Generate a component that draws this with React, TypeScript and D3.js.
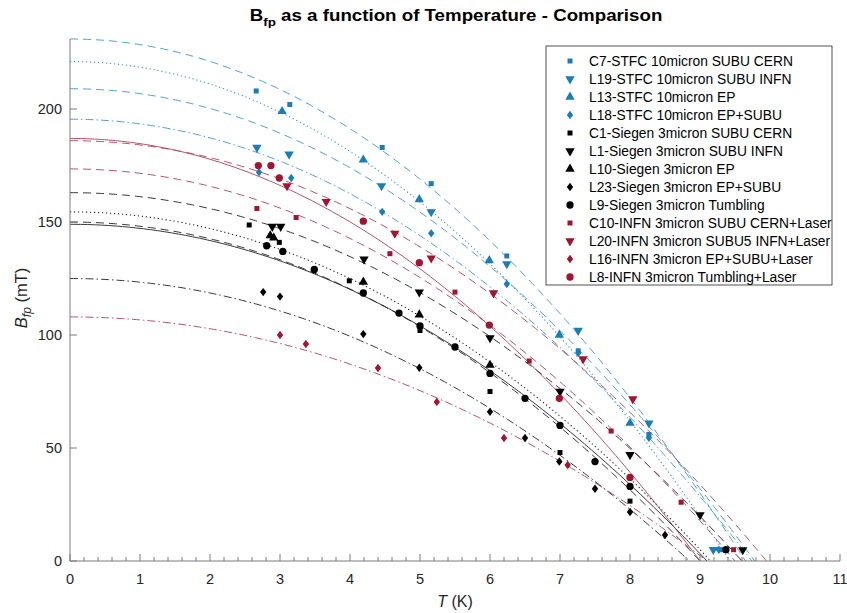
import React from "react";
import * as d3 from "d3";

// ---- Data ----
const seriesNames = [
  "C7-STFC 10micron SUBU CERN",
  "L19-STFC 10micron SUBU INFN",
  "L13-STFC 10micron EP",
  "L18-STFC 10micron EP+SUBU",
  "C1-Siegen 3micron SUBU CERN",
  "L1-Siegen 3micron SUBU INFN",
  "L10-Siegen 3micron EP",
  "L23-Siegen 3micron EP+SUBU",
  "L9-Siegen 3micron Tumbling",
  "C10-INFN 3micron SUBU CERN+Laser",
  "L20-INFN 3micron SUBU5 INFN+Laser",
  "L16-INFN 3micron EP+SUBU+Laser",
  "L8-INFN 3micron Tumbling+Laser",
];
const seriesGroup = ["STFC", "STFC", "STFC", "STFC", "Siegen", "Siegen", "Siegen", "Siegen", "Siegen", "INFN", "INFN", "INFN", "INFN"];
const seriesMarker = ["square", "down", "up", "diamond", "square", "down", "up", "diamond", "circle", "square", "down", "diamond", "circle"];
const seriesLine = ["dash", "dash", "dot", "dashdot", "dash", "dash", "dot", "dashdot", "solid", "dash", "dash", "dashdot", "solid"];

// fit parameters: B(0) and Tc
const fitB0 = [231, 209, 221, 195.5, 150, 163, 154.5, 125, 149, 173.5, 186, 108, 187];
const fitTc = [9.65, 9.78, 9.43, 9.74, 9.0, 9.6, 9.15, 8.85, 9.1, 9.5, 9.95, 9.1, 9.0];

const T_C7 = [2.66, 3.14, 4.46, 5.16, 6.24, 7.26, 8.27, 9.31];
const B_C7 = [208, 202, 183, 167, 135, 93, 56, 5];
const T_L19 = [2.67, 3.13, 4.45, 5.16, 6.24, 7.26, 8.27, 9.19];
const B_L19 = [183, 180, 166, 154.5, 131.5, 102, 61, 5];
const T_L13 = [3.03, 4.19, 4.99, 5.99, 6.99, 8.0];
const B_L13 = [199, 177.5, 160, 133, 100, 61];
const T_L18 = [2.7, 3.16, 4.46, 5.16, 6.24, 7.26, 8.27, 9.27];
const B_L18 = [172, 169.5, 154.5, 145, 122.6, 92, 54.5, 5];
const T_C1 = [2.56, 2.99, 3.99, 5.0, 6.0, 7.0, 8.0];
const B_C1 = [148.7, 141, 124, 102, 75, 48, 26.5];
const T_L1 = [2.89, 3.01, 4.2, 4.99, 6.0, 7.0, 8.0, 9.0, 9.61];
const B_L1 = [148, 148, 133.6, 119, 98.7, 75, 47, 20.4, 4.9];
const T_L10 = [2.86, 2.91, 4.19, 4.99, 6.0];
const B_L10 = [144, 143, 123.5, 109, 86.7];
const T_L23 = [2.76, 3.0, 4.19, 4.99, 6.0, 6.5, 6.99, 7.5, 8.0, 8.5];
const B_L23 = [119, 117, 100.4, 85.5, 66, 54.4, 44, 32, 21.7, 11.5];
const T_L9 = [2.81, 3.04, 3.49, 4.19, 4.7, 5.0, 5.5, 6.0, 6.5, 7.0, 7.5, 8.0, 9.37];
const B_L9 = [139.5, 137, 129, 118.6, 109.7, 104, 94.7, 83, 72, 60, 44, 33, 5];
const T_C10 = [2.67, 3.23, 4.57, 5.5, 6.56, 7.73, 8.73, 9.48];
const B_C10 = [156, 152, 136, 119, 88.5, 57.5, 26, 5];
const T_L20 = [3.1, 3.66, 4.64, 5.16, 6.05, 7.33, 8.04];
const B_L20 = [166, 159, 145, 134, 118.6, 89.4, 71.7];
const T_L16 = [3.0, 3.37, 4.4, 5.24, 6.2, 7.11];
const B_L16 = [100, 96, 85.4, 70.4, 54.4, 42.5];
const T_L8 = [2.69, 2.87, 2.99, 4.19, 4.99, 5.99, 6.99, 8.0];
const B_L8 = [175, 175, 169.5, 150.4, 132, 104.4, 72, 37];

const seriesT = [T_C7, T_L19, T_L13, T_L18, T_C1, T_L1, T_L10, T_L23, T_L9, T_C10, T_L20, T_L16, T_L8];
const seriesB = [B_C7, B_L19, B_L13, B_L18, B_C1, B_L1, B_L10, B_L23, B_L9, B_C10, B_L20, B_L16, B_L8];

const xTicks = [0, 1, 2, 3, 4, 5, 6, 7, 8, 9, 10, 11];
const yTicks = [0, 50, 100, 150, 200];

// ---- Styles ----
const W = 847;
const H = 613;
const markerColor: Record<string, string> = { STFC: "#1a7db8", Siegen: "#000000", INFN: "#a2142f" };
const lineColor: Record<string, string> = { STFC: "#3a98cc", Siegen: "#222222", INFN: "#b0405a" };
const dashMap: Record<string, string> = { dash: "8,5", dot: "1.2,2.8", dashdot: "8,3,1.5,3", solid: "none" };
const FONT = "'Liberation Sans', Arial, Helvetica, sans-serif";

const x = d3.scaleLinear().domain([0, 11]).range([70, 840]);
const y = d3.scaleLinear().domain([0, 231]).range([561, 39]);

const diamondPath = "M0,-4.2L3.2,0L0,4.2L-3.2,0Z";

function markerPath(kind: string): { d: string; rot: number } {
  if (kind === "square") return { d: d3.symbol(d3.symbolSquare, 25)()!, rot: 0 };
  if (kind === "up") return { d: d3.symbol(d3.symbolTriangle, 38)()!, rot: 0 };
  if (kind === "down") return { d: d3.symbol(d3.symbolTriangle, 38)()!, rot: 180 };
  if (kind === "diamond") return { d: diamondPath, rot: 0 };
  return { d: d3.symbol(d3.symbolCircle, 42)()!, rot: 0 };
}

export default function App() {
  const line = d3
    .line<[number, number]>()
    .x((d) => x(d[0]))
    .y((d) => y(d[1]));

  const curves = fitB0.map((b0, i) => {
    const tc = fitTc[i];
    const ts = d3.range(0, tc, 0.05).concat([tc]);
    const pts: [number, number][] = ts.map((t) => [t, b0 * (1 - (t / tc) * (t / tc))]);
    return pts;
  });

  const minorX = d3.range(0, 11.001, 0.2).filter((v) => Math.abs(v - Math.round(v)) > 1e-6);

  const legX = 546;
  const legY = 46;
  const legW = 286;
  const legH = 239;

  return (
    <svg width={W} height={H} style={{ position: "absolute", left: 0, top: 0, background: "#fff" }} fontFamily={FONT}>
      <rect x={0} y={0} width={W} height={H} fill="#fff" />
      {/* curves */}
      <g>
        {curves.map((pts, i) => (
          <path
            key={"c" + i}
            d={line(pts)!}
            fill="none"
            stroke={lineColor[seriesGroup[i]]}
            strokeWidth={seriesLine[i] === "dot" ? 1.1 : 0.9}
            strokeDasharray={dashMap[seriesLine[i]]}
          />
        ))}
      </g>
      {/* markers */}
      <g>
        {seriesT.map((ts, i) => {
          const m = markerPath(seriesMarker[i]);
          return ts.map((t, j) => (
            <path
              key={"m" + i + "_" + j}
              d={m.d}
              transform={`translate(${x(t)},${y(seriesB[i][j])}) rotate(${m.rot})`}
              fill={markerColor[seriesGroup[i]]}
            />
          ));
        })}
      </g>
      {/* axes */}
      <g stroke="#7a7a7a" strokeWidth={1} fill="none">
        <line x1={x(0)} y1={y(0)} x2={x(11)} y2={y(0)} />
        <line x1={x(0)} y1={y(0)} x2={x(0)} y2={y(231)} />
        {xTicks.map((t) => (
          <line key={"xt" + t} x1={x(t)} x2={x(t)} y1={y(0)} y2={y(0) - 7} />
        ))}
        {minorX.map((t, i) => (
          <line key={"xm" + i} x1={x(t)} x2={x(t)} y1={y(0)} y2={y(0) - 4} />
        ))}
        {yTicks.map((v) => (
          <line key={"yt" + v} x1={x(0)} x2={x(0) + 7} y1={y(v)} y2={y(v)} />
        ))}
      </g>
      <g fill="#262626" fontSize={14.5}>
        {xTicks.map((t) => (
          <text key={"xl" + t} x={x(t)} y={584} textAnchor="middle">
            {t}
          </text>
        ))}
        {yTicks.map((v) => (
          <text key={"yl" + v} x={62} y={y(v) + 5} textAnchor="end">
            {v}
          </text>
        ))}
      </g>
      {/* axis labels */}
      <text x={455} y={607} textAnchor="middle" fontSize={16} fill="#262626">
        <tspan fontStyle="italic">T</tspan> (K)
      </text>
      <text transform="translate(27,298) rotate(-90)" textAnchor="middle" fontSize={16.5} fill="#262626">
        <tspan fontStyle="italic">B</tspan>
        <tspan fontStyle="italic" fontSize={12} dy={4}>fp</tspan>
        <tspan dy={-4}> (mT)</tspan>
      </text>
      {/* title */}
      <text transform="translate(456,21) scale(1.17,1)" x={0} y={0} textAnchor="middle" fontSize={16} fontWeight="bold" fill="#000">
        <tspan>B</tspan>
        <tspan fontSize={11.5} dy={5}>fp</tspan>
        <tspan dy={-5}> as a function of Temperature - Comparison</tspan>
      </text>
      {/* legend */}
      <g>
        <rect x={legX} y={legY} width={legW} height={legH} fill="#fff" stroke="#262626" strokeWidth={0.8} />
        {seriesNames.map((name, i) => {
          const m = markerPath(seriesMarker[i]);
          const ry = 61 + 18 * i;
          return (
            <g key={"lg" + i}>
              <path d={m.d} transform={`translate(570,${ry}) rotate(${m.rot})`} fill={markerColor[seriesGroup[i]]} />
              <text x={589} y={ry + 5} fontSize={13.8} fill="#000">
                {name}
              </text>
            </g>
          );
        })}
      </g>
    </svg>
  );
}
